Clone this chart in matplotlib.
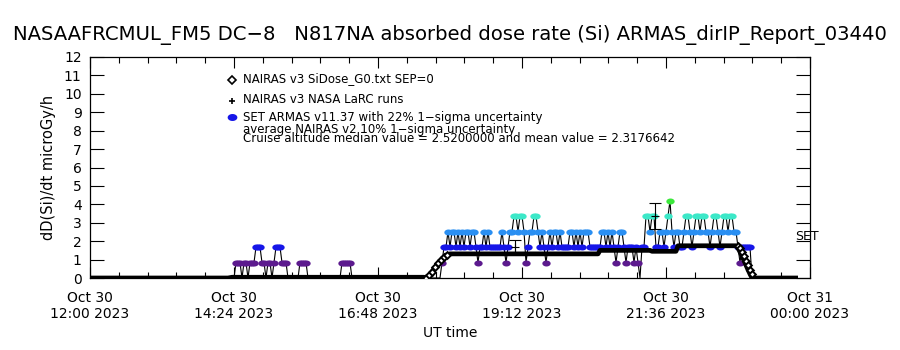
import matplotlib
matplotlib.use("Agg")
import matplotlib.pyplot as plt
import numpy as np
from matplotlib.path import Path

# ---------------- data (x in minutes after 2023-10-30 12:00 UT) ----------------
title = "NASAAFRCMUL_FM5 DC\u22128   N817NA absorbed dose rate (Si) ARMAS_dirIP_Report_03440"
ylabel = "dD(Si)/dt microGy/h"
xlabel = "UT time"
xtick_minutes = [0, 144, 288, 432, 576, 720]
xtick_labels = ["Oct 30\n12:00 2023", "Oct 30\n14:24 2023", "Oct 30\n16:48 2023",
                "Oct 30\n19:12 2023", "Oct 30\n21:36 2023", "Oct 31\n00:00 2023"]
yticks = list(range(0, 13))

# ARMAS quantised dose-rate levels and samples (2-minute step, one digit per sample = level index)
armas_level_values = [0.0, 0.84, 1.68, 2.52, 3.36, 4.20]
armas_level_colors = ["#000000", "#5c1a8e", "#1616e8", "#2a8ff2", "#3ce8c8", "#3ce83c"]
armas_step_min = 2
armas_seg_start = [0, 142, 206, 248, 348, 664]
armas_seg_levels = [
    "0",
    "00111011011122211011012221110",
    "0011110",
    "00111110",
    "0012232332" "3232332332" "1223232222" "2232123344" "3443123344"
    "3232123233" "2322223323" "2323332222" "2233232321" "2332122212"
    "1022443442" "2332345323" "3223443234" "4344332344" "3234434433"
    "21222220",
    "0",
]

# NAIRAS v3 G0 model (breakpoints)
nairas_min = [0, 138, 142, 334, 336, 339, 342, 345, 348, 351, 354, 357, 360,
              508, 510, 560, 562, 586, 588, 646, 648, 650, 652, 654, 656, 658, 660, 662, 708]
nairas_val = [0, 0, 0.04, 0.04, 0.0, 0.15, 0.35, 0.58, 0.8, 1.0, 1.15, 1.27, 1.31,
              1.31, 1.50, 1.50, 1.45, 1.45, 1.75, 1.75, 1.62, 1.42, 1.18, 0.95, 0.7, 0.45, 0.22, 0.0, 0.0]
nairas_ramp_min = [336, 339, 342, 345, 348, 351, 354, 357, 648, 650, 652, 654, 656, 658, 660, 662]
nairas_ramp_val = [0.0, 0.15, 0.35, 0.58, 0.8, 1.0, 1.15, 1.27, 1.75, 1.62, 1.42, 1.18, 0.95, 0.7, 0.45, 0.22]

# NAIRAS LaRC runs with uncertainty
larc_min = [425, 565]
larc_val = [1.70, 3.37]
larc_err = [0.35, 0.72]

legend_lines = ["NAIRAS v3 SiDose_G0.txt SEP=0",
                "NAIRAS v3 NASA LaRC runs",
                "SET ARMAS v11.37 with 22% 1\u2212sigma uncertainty",
                "average NAIRAS v2 10% 1\u2212sigma uncertainty",
                "Cruise altitude median value = 2.5200000 and mean value = 2.3176642"]

# ---------------- build ARMAS series ----------------
at, av, ai = [], [], []
for s0, lv in zip(armas_seg_start, armas_seg_levels):
    for k, ch in enumerate(lv):
        at.append(s0 + k * armas_step_min)
        ai.append(int(ch))
        av.append(armas_level_values[int(ch)])
at = np.array(at); av = np.array(av); ai = np.array(ai)

plt.rcParams['font.family'] = ['DejaVu Sans']
W, H = 900, 350
fig = plt.figure(figsize=(9, 3.5), dpi=100)
L, R, T, B = 90, 810, 57, 278
ax = fig.add_axes([L / W, 1 - B / H, (R - L) / W, (B - T) / H])

theta = np.linspace(0, 2 * np.pi, 40)
ell = Path(np.column_stack([np.cos(theta), 0.72 * np.sin(theta)]), closed=True)

ax.plot(at, av, color="black", lw=0.8, zorder=2)
for k in range(1, len(armas_level_values)):
    m = ai == k
    ax.plot(at[m], av[m], ls="none", marker=ell, ms=6.0, mfc=armas_level_colors[k],
            mec=armas_level_colors[k], mew=0, zorder=3)

ax.plot(nairas_min, nairas_val, color="black", lw=3.4, zorder=4, solid_capstyle="butt")
ax.plot(nairas_ramp_min, nairas_ramp_val, ls="none", marker="D", ms=3.4, mfc="white",
        mec="black", mew=1.4, zorder=5)
ax.errorbar(larc_min, larc_val, yerr=larc_err, fmt="+", color="black", ms=6, mew=0.8,
            elinewidth=0.8, capsize=4, capthick=0.8, zorder=6)

ax.set_xlim(0, 720)
ax.set_ylim(0, 12)
ax.set_yticks(yticks)
ax.set_yticklabels([str(v) for v in yticks], fontsize=10)
ax.set_xticks(xtick_minutes)
ax.set_xticklabels(xtick_labels, fontsize=10, linespacing=1.2)
ax.set_xticks(np.linspace(0, 720, 26), minor=True)
ax.tick_params(axis="y", which="major", direction="in", length=10, width=0.8,
               left=True, right=True, pad=6)
ax.tick_params(axis="x", which="both", direction="in", length=4, width=0.8,
               top=True, bottom=True, pad=9)
ax.tick_params(axis="x", which="major", length=8)
for sp in ax.spines.values():
    sp.set_linewidth(0.9)

ax.set_ylabel(ylabel, fontsize=10.5, labelpad=6)
ax.set_xlabel(xlabel, fontsize=10, labelpad=4)
fig.text(0.5, 1 - 35 / H, title, ha="center", va="center", fontsize=14.1)

# legend (drawn as annotations like the original)
lx = 243 / W
fig.text(lx, 1 - 79 / H, legend_lines[0], fontsize=8.5, va="center")
fig.text(lx, 1 - 99 / H, legend_lines[1], fontsize=8.5, va="center")
fig.text(lx, 1 - 117 / H, legend_lines[2], fontsize=8.5, va="center")
fig.text(lx, 1 - 130 / H, legend_lines[3], fontsize=8.5, va="center")
fig.text(lx, 1 - 138 / H, legend_lines[4], fontsize=8.5, va="center")
fig.lines.append(plt.Line2D([232 / W], [1 - 80 / H], transform=fig.transFigure, marker="D",
                            ms=4, mfc="white", mec="black", mew=1.2, ls="none"))
fig.lines.append(plt.Line2D([232 / W], [1 - 101 / H], transform=fig.transFigure, marker="+",
                            ms=5, mec="black", mew=1.2, ls="none"))
fig.lines.append(plt.Line2D([232 / W], [1 - 117 / H], transform=fig.transFigure, marker=ell,
                            ms=7, mfc="#1616e8", mec="#1616e8", mew=0, ls="none"))
fig.text(795 / W, 1 - 237 / H, "SET", fontsize=9, va="center", ha="left")

fig.savefig("out.png", dpi=100)
